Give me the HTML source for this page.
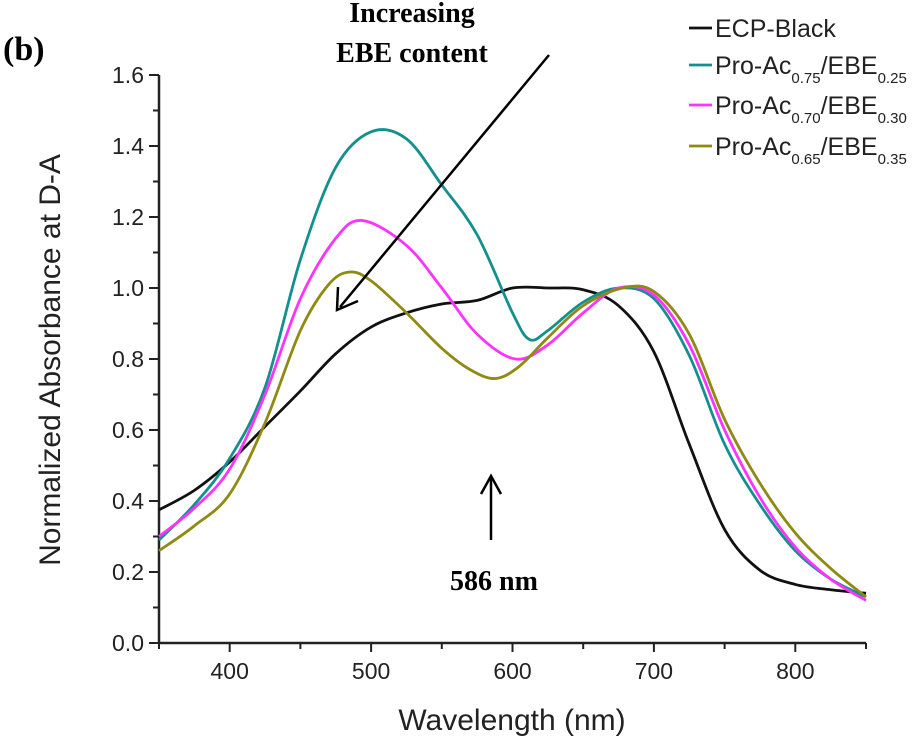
<!DOCTYPE html>
<html><head><meta charset="utf-8"><style>
body{margin:0;background:#fff;width:921px;height:745px;overflow:hidden}
svg{display:block}
text{font-family:"Liberation Sans",sans-serif}
.serif{font-family:"Liberation Serif",serif;font-weight:bold}
</style></head><body>
<svg id="chart" width="921" height="745">
<g id="axes"></g>
<g id="series"></g>
<text class="serif" x="3" y="60" font-size="34">(b)</text>
<text class="serif" x="412" y="22" font-size="28" text-anchor="middle">Increasing</text>
<text class="serif" x="412" y="62" font-size="28" text-anchor="middle">EBE content</text>
<line x1="549" y1="55" x2="340" y2="307" stroke="#000" stroke-width="2.5"/>
<polyline points="338,287 337,310 358,301" fill="none" stroke="#000" stroke-width="2.5"/>
<line x1="491" y1="540" x2="491" y2="478" stroke="#000" stroke-width="2.5"/>
<polyline points="481,494 491,476 501,494" fill="none" stroke="#000" stroke-width="2.5"/>
<text class="serif" x="494" y="590" font-size="28" text-anchor="middle">586 nm</text>
<text x="512" y="730" font-size="30" text-anchor="middle" fill="#222">Wavelength (nm)</text>
<text transform="translate(60,360) rotate(-90)" font-size="30" text-anchor="middle" fill="#222">Normalized Absorbance at D-A</text>
<g id="legend"></g>
</svg>
<script>
const xTicks=[400,500,600,700,800];
const yTicks=[0,0.2,0.4,0.6,0.8,1.0,1.2,1.4,1.6];
const seriesNames=["ECP-Black","Pro-Ac0.75/EBE0.25","Pro-Ac0.70/EBE0.30","Pro-Ac0.65/EBE0.35"];
const blackX=[350,375,400,425,450,475,500,525,550,575,600,625,650,675,700,725,750,775,800,825,850];
const blackY=[0.375,0.43,0.51,0.61,0.71,0.815,0.89,0.93,0.955,0.965,1.00,1.00,0.995,0.95,0.82,0.56,0.32,0.205,0.165,0.15,0.14];
const tealX=[350,375,400,425,450,475,500,525,550,575,600,612,625,650,675,700,725,750,775,800,825,850];
const tealY=[0.29,0.39,0.52,0.72,1.08,1.34,1.44,1.42,1.29,1.15,0.93,0.855,0.88,0.96,1.00,0.97,0.81,0.56,0.39,0.26,0.18,0.13];
const magX=[350,375,400,425,450,475,494,525,550,575,602,625,650,675,700,725,750,775,800,825,850];
const magY=[0.30,0.38,0.49,0.70,0.97,1.14,1.19,1.12,1.00,0.87,0.80,0.84,0.93,1.00,0.98,0.84,0.60,0.41,0.27,0.18,0.12];
const oliveX=[350,375,400,425,450,470,485,500,525,550,570,588,605,625,650,678,700,725,750,775,800,825,850];
const oliveY=[0.26,0.33,0.42,0.62,0.88,1.01,1.045,1.02,0.93,0.83,0.77,0.745,0.78,0.86,0.95,1.00,0.99,0.87,0.63,0.45,0.31,0.21,0.13];
const colors=["#111111","#12908e","#ff33ff","#8f8a12"];
const NS="http://www.w3.org/2000/svg";
const X0=159,X1=866,Y0=643,Y1=75;
function sx(v){return X0+(v-350)/(850-350)*(X1-X0);}
function sy(a){return Y0-a/1.6*(Y0-Y1);}
function mk(t,at,p){const e=document.createElementNS(NS,t);for(const k in at)e.setAttribute(k,at[k]);p.appendChild(e);return e;}
const ax=document.getElementById('axes');
let l=mk('line',{x1:X0,y1:Y0,x2:X1,y2:Y0,stroke:'#222','stroke-width':2.5},ax);


l=mk('line',{x1:X0,y1:Y0,x2:X0,y2:Y1,stroke:'#222','stroke-width':2.5},ax);


for(let v=350;v<=850;v+=50){const big=v%100===0;
 const t=mk('line',{x1:sx(v),y1:Y0,x2:sx(v),y2:Y0+(big?9:6),stroke:'#222','stroke-width':2},ax);
 
 }
xTicks.forEach(v=>{const t=mk('text',{x:sx(v),y:Y0+36,'font-size':23,'text-anchor':'middle',fill:'#222'},ax);t.textContent=v;
 
 });
for(let i=0;i<=16;i++){const a=i/10,big=i%2===0;
 const t=mk('line',{x1:X0,y1:sy(a),x2:X0-(big?10:6),y2:sy(a),stroke:'#222','stroke-width':2},ax);
 
 }
yTicks.forEach(a=>{const t=mk('text',{x:X0-15,y:sy(a)+8,'font-size':23,'text-anchor':'end',fill:'#222'},ax);t.textContent=a.toFixed(1);
 
 });
function path(xs,ys){const p=xs.map((x,i)=>[sx(x),sy(ys[i])]);let d='M'+p[0][0]+','+p[0][1];
 for(let i=0;i<p.length-1;i++){const a=p[Math.max(i-1,0)],b=p[i],c=p[i+1],e=p[Math.min(i+2,p.length-1)];
  d+=' C'+(b[0]+(c[0]-a[0])/6)+','+(b[1]+(c[1]-a[1])/6)+' '+(c[0]-(e[0]-b[0])/6)+','+(c[1]-(e[1]-b[1])/6)+' '+c[0]+','+c[1];}
 return d;}
const sg=document.getElementById('series');
const data=[[blackX,blackY],[tealX,tealY],[magX,magY],[oliveX,oliveY]];
const snames=['series-ecp-black','series-pro-ac-075','series-pro-ac-070','series-pro-ac-065'];
data.forEach((s,i)=>{const p=mk('path',{d:path(s[0],s[1]),fill:'none',stroke:colors[i],'stroke-width':2.8},sg);
 
 });
const lg=document.getElementById('legend');
const rowsY=[28,65,105,146];
const subs=[null,["0.75","0.25"],["0.70","0.30"],["0.65","0.35"]];
rowsY.forEach((y,i)=>{
 const ln=mk('line',{x1:689,y1:y,x2:712,y2:y,stroke:colors[i],'stroke-width':2.8},lg);
 
 
 const t=mk('text',{x:715,y:y+9,'font-size':25,fill:'#222'},lg);
 
 
 if(!subs[i]){t.textContent=seriesNames[i];return;}
 t.innerHTML='Pro-Ac<tspan font-size="15" dy="9">'+subs[i][0]+'</tspan><tspan dy="-9">/EBE</tspan><tspan font-size="15" dy="9">'+subs[i][1]+'</tspan>';
});
</script>
</body></html>
